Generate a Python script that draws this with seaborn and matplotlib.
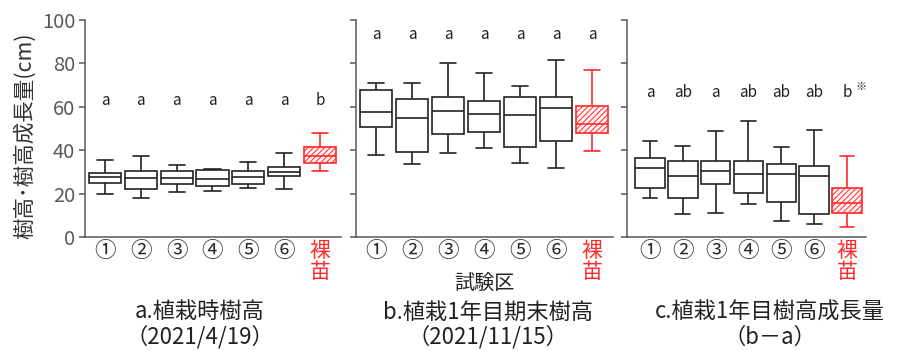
import matplotlib
matplotlib.use("Agg")
import matplotlib.pyplot as plt
import seaborn as sns
import pandas as pd

sns.set_theme(style="white")
plt.rcParams["font.family"] = ["Noto Sans CJK JP", "DejaVu Sans"]
plt.rcParams["hatch.linewidth"] = 0.7

# Test plots: six planted-seedling plots and bare-root seedlings
groups = ["①", "②", "③", "④", "⑤", "⑥", "裸苗"]

# a. height at planting (2021/4/19): min, Q1, median, Q3, max
a_low = [20.0, 18.2, 20.6, 21.1, 22.6, 22.0, 30.3]
a_q1 = [24.9, 22.3, 24.2, 23.4, 24.3, 28.2, 34.2]
a_med = [27.7, 27.4, 27.2, 26.9, 27.7, 30.0, 37.4]
a_q3 = [29.7, 30.5, 30.5, 30.8, 30.2, 32.3, 41.5]
a_high = [35.4, 37.2, 33.4, 31.5, 34.5, 38.5, 48.0]
a_letters = ["a", "a", "a", "a", "a", "a", "b"]

# b. height at end of first year (2021/11/15)
b_low = [37.8, 33.7, 38.6, 40.8, 34.3, 31.7, 39.8]
b_q1 = [50.8, 39.1, 47.4, 48.2, 41.4, 44.2, 47.7]
b_med = [57.7, 54.8, 58.2, 56.6, 56.0, 59.5, 52.3]
b_q3 = [67.7, 63.8, 64.6, 62.5, 64.6, 64.6, 60.3]
b_high = [70.8, 70.8, 80.0, 75.8, 69.4, 81.5, 76.8]
b_letters = ["a", "a", "a", "a", "a", "a", "a"]

# c. first-year height growth (b - a)
c_low = [17.9, 10.7, 11.2, 15.0, 7.4, 6.0, 4.6]
c_q1 = [22.8, 17.9, 24.5, 20.4, 16.1, 10.7, 11.0]
c_med = [31.7, 28.0, 30.5, 29.2, 29.1, 27.9, 15.6]
c_q3 = [36.6, 34.8, 35.2, 35.2, 33.5, 32.8, 22.8]
c_high = [44.3, 41.8, 49.0, 53.3, 41.3, 49.3, 37.5]
c_letters = ["a", "ab", "a", "ab", "ab", "ab", "b"]

RED = "#ff2a2a"
INK = "#222222"
AXIS = "#595959"


def five_number_frame(low, q1, med, q3, high):
    rows = []
    for g, *vals in zip(groups, low, q1, med, q3, high):
        for v in vals:
            rows.append((g, v))
    return pd.DataFrame(rows, columns=["group", "value"])


def draw_panel(ax, df, letters, letter_y, xlim, show_labels):
    common = dict(x="group", y="value", order=groups, whis=(0, 100),
                  width=0.9, showfliers=False, linewidth=1.2,
                  saturation=1, ax=ax)
    planted = df[df["group"] != groups[-1]]
    bare = df[df["group"] == groups[-1]]
    sns.boxplot(data=planted, color="white", linecolor=INK, **common)
    sns.boxplot(data=bare, color="#fff2f2", linecolor=RED, **common)
    ax.patches[-1].set_hatch("//////")

    ax.set_xlim(*xlim)
    ax.set_ylim(0, 100)
    ax.set_yticks(range(0, 101, 20))
    ax.set_xticks(range(len(groups)))
    ax.set_xticklabels(groups[:-1] + ["裸\n苗"], fontsize=15.5,
                       linespacing=0.95, va="top")
    ax.get_xticklabels()[-1].set_color(RED)
    ax.get_xticklabels()[-1].set_fontsize(15)
    ax.set_xlabel("")
    ax.set_ylabel("")
    for side in ("top", "right"):
        ax.spines[side].set_visible(False)
    for side in ("left", "bottom"):
        ax.spines[side].set_color(AXIS)
        ax.spines[side].set_linewidth(1.1)
    ax.tick_params(axis="y", left=True, length=4, width=1.1, color=AXIS,
                   direction="out", labelleft=show_labels, labelsize=14.5,
                   labelcolor=AXIS, pad=3)
    ax.tick_params(axis="x", bottom=False, length=0, pad=2)
    ax.set_facecolor("white")
    for i, lab in enumerate(letters):
        ax.text(i, letter_y, lab, ha="center", va="center",
                fontsize=11, color=INK)


fig = plt.figure(figsize=(8.99, 3.51), dpi=100)
fig.patch.set_facecolor("white")
bottom, height = 1 - 237 / 351, 217 / 351
ax_a = fig.add_axes([85 / 899, bottom, 256 / 899, height])
ax_b = fig.add_axes([356 / 899, bottom, 257 / 899, height])
ax_c = fig.add_axes([627 / 899, bottom, 239 / 899, height])

draw_panel(ax_a, five_number_frame(a_low, a_q1, a_med, a_q3, a_high),
           a_letters, 63, (-0.56, 6.59), True)
draw_panel(ax_b, five_number_frame(b_low, b_q1, b_med, b_q3, b_high),
           b_letters, 93.5, (-0.56, 6.58), False)
draw_panel(ax_c, five_number_frame(c_low, c_q1, c_med, c_q3, c_high),
           c_letters, 66.5, (-0.70, 6.58), False)
ax_c.annotate("※", xy=(6, 66.5), xytext=(6, 4), textcoords="offset points",
              ha="left", va="center", fontsize=8, color=INK)

fig.text(25 / 899, 1 - 136 / 351, "樹高･樹高成長量(cm)", rotation=90,
         ha="center", va="center", fontsize=15.5, color="#333333")
fig.text(484 / 899, 1 - 283 / 351, "試験区", ha="center", va="center",
         fontsize=14.5, color=INK)

titles = [("a.植栽時樹高", "（2021/4/19）", 200),
          ("b.植栽1年目期末樹高", "（2021/11/15）", 488),
          ("c.植栽1年目樹高成長量", "（b－a）", 770)]
for line1, line2, xc in titles:
    fig.text(xc / 899, 1 - 312 / 351, line1, ha="center", va="center",
             fontsize=16, color=INK)
    fig.text(xc / 899, 1 - 337 / 351, line2, ha="center", va="center",
             fontsize=16, color=INK)

fig.savefig("out.png", dpi=100, facecolor="white")
